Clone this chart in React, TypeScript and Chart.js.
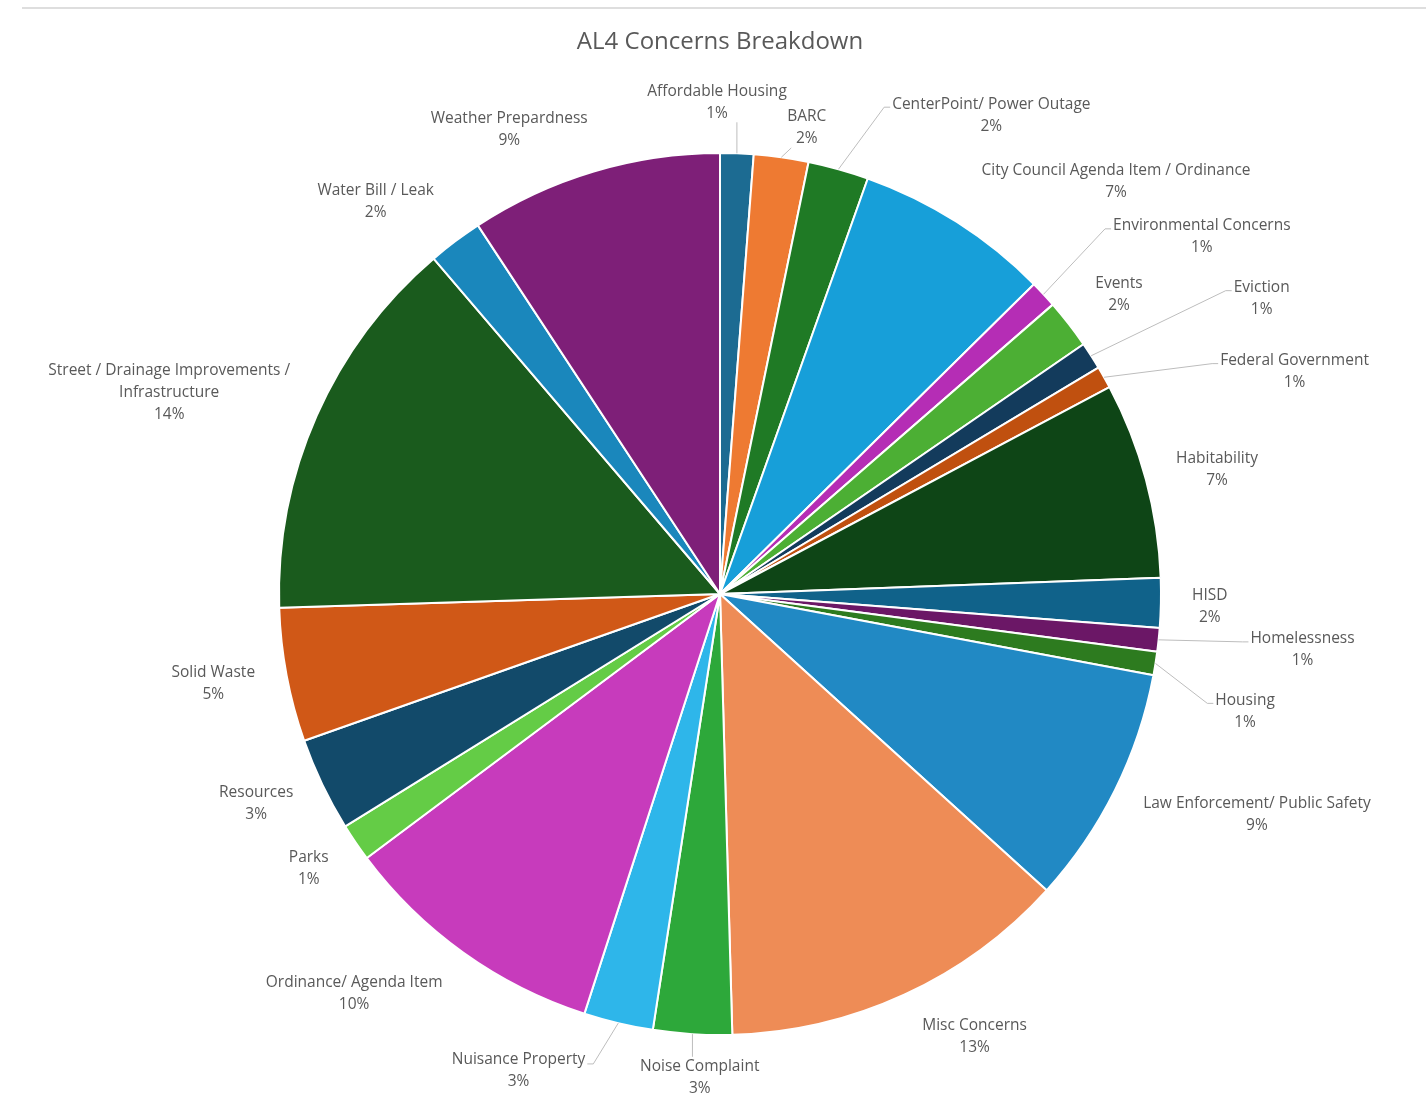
import React, { useEffect, useRef } from "react";
import { Chart, registerables } from "chart.js";

Chart.register(...registerables);

const TITLE = "AL4 Concerns Breakdown";

const categories = [
  "Affordable Housing",
  "BARC",
  "CenterPoint/ Power Outage",
  "City Council Agenda Item / Ordinance",
  "Environmental Concerns",
  "Events",
  "Eviction",
  "Federal Government",
  "Habitability",
  "HISD",
  "Homelessness",
  "Housing",
  "Law Enforcement/ Public Safety",
  "Misc Concerns",
  "Noise Complaint",
  "Nuisance Property",
  "Ordinance/ Agenda Item",
  "Parks",
  "Resources",
  "Solid Waste",
  "Street / Drainage Improvements / Infrastructure",
  "Water Bill / Leak",
  "Weather Prepardness",
];

// share of concerns (%)
const values = [
  1.22, 2.0, 2.22, 7.17, 1.0, 1.81, 1.0, 0.81, 7.19, 1.81, 0.86, 0.86, 8.78,
  12.83, 2.88, 2.54, 9.81, 1.38, 3.44, 4.9, 14.25, 2.0, 9.25,
];

const colors = [
  "#1c6b92",
  "#ee7a32",
  "#1f7a25",
  "#179fd9",
  "#b52db5",
  "#4caf34",
  "#133b5c",
  "#c0500f",
  "#0e4516",
  "#10628a",
  "#6b1766",
  "#2d7b1f",
  "#2189c4",
  "#ee8c56",
  "#2da83a",
  "#2eb6ea",
  "#c73bbc",
  "#64cc46",
  "#124a6a",
  "#d05817",
  "#1a5b1d",
  "#1a87bc",
  "#7e1f78",
];

// label layout: distance from centre (in radii), angle clockwise from 12 o'clock, leader anchor
const labelDist = [
  1.115, 1.075, 1.248, 1.296, 1.36, 1.131, 1.399, 1.397, 1.162, 1.111, 1.327,
  1.22, 1.316, 1.158, 1.098, 1.174, 1.228, 1.121, 1.154, 1.167, 1.33, 1.183,
  1.157,
];
const labelAngle = [
  -0.35, 10.55, 29.54, 43.86, 53.45, 53.13, 61.4, 68.84, 75.9, 91.5, 95.48,
  102.6, 112.3, 150.1, 182.4, 202.9, 222.5, 236.3, 245.7, 259.95, 290.1, 318.7,
  335.6,
];
const labelAnchor = [
  "B", "B", "L", "", "L", "", "L", "L", "", "", "L", "L", "", "", "T", "R", "",
  "", "", "", "", "", "",
];

const FONT = '"Open Sans", "Noto Sans", sans-serif';
const TEXT_COLOR = "#595959";
const LABEL_SIZE = 15.5;
const LINE_H = 22;

function wrapText(ctx: CanvasRenderingContext2D, text: string, maxW: number) {
  const words = text.split(" ");
  const lines: string[] = [];
  let cur = "";
  for (const w of words) {
    const t = cur ? cur + " " + w : w;
    if (ctx.measureText(t).width > maxW && cur) {
      lines.push(cur);
      cur = w;
    } else cur = t;
  }
  if (cur) lines.push(cur);
  return lines;
}

const outsideLabels = {
  id: "outsideLabels",
  afterDatasetsDraw(chart: any) {
    const ctx: CanvasRenderingContext2D = chart.ctx;
    const meta = chart.getDatasetMeta(0);
    const data = chart.data.datasets[0].data as number[];
    const total = data.reduce((a, b) => a + b, 0);
    ctx.save();
    ctx.font = `${LABEL_SIZE}px ${FONT}`;
    ctx.textAlign = "center";
    ctx.textBaseline = "middle";
    meta.data.forEach((arc: any, i: number) => {
      const p = arc.getProps(
        ["x", "y", "startAngle", "endAngle", "outerRadius"],
        true
      );
      const mid = (p.startAngle + p.endAngle) / 2;
      const ax = p.x + Math.cos(mid) * p.outerRadius;
      const ay = p.y + Math.sin(mid) * p.outerRadius;
      const ang = ((labelAngle[i] - 90) * Math.PI) / 180;
      const cx = p.x + Math.cos(ang) * labelDist[i] * p.outerRadius;
      const cy = p.y + Math.sin(ang) * labelDist[i] * p.outerRadius;
      const lines = wrapText(ctx, categories[i], 300);
      lines.push(Math.round((data[i] / total) * 100) + "%");
      const widths = lines.map((l) => ctx.measureText(l).width);
      const w = Math.max(...widths);
      const firstY = cy - ((lines.length - 1) / 2) * LINE_H;
      const lastY = firstY + (lines.length - 1) * LINE_H;
      const left = cx - w / 2;
      const right = cx + w / 2;
      const a = labelAnchor[i];
      if (a) {
        ctx.strokeStyle = "#bdbdbd";
        ctx.lineWidth = 1;
        ctx.beginPath();
        ctx.moveTo(ax, ay);
        if (a === "L") {
          const lw = widths[0];
          const l0 = cx - lw / 2;
          ctx.lineTo(l0 - 8, firstY + 3);
          ctx.lineTo(l0 - 2, firstY + 3);
        } else if (a === "R") {
          const lw = widths[0];
          const r0 = cx + lw / 2;
          ctx.lineTo(r0 + 8, firstY + 4);
          ctx.lineTo(r0 + 2, firstY + 4);
        } else if (a === "B") {
          const bx = Math.min(Math.max(ax, left + 4), right - 4);
          ctx.lineTo(bx, lastY + 9);
        } else if (a === "T") {
          const tx = Math.min(Math.max(ax, left + 4), right - 4);
          ctx.lineTo(tx, firstY - 10);
        }
        ctx.stroke();
      }
      ctx.fillStyle = TEXT_COLOR;
      lines.forEach((l, k) => ctx.fillText(l, cx, firstY + k * LINE_H));
    });
    ctx.restore();
  },
};

export default function App() {
  const ref = useRef<HTMLCanvasElement | null>(null);
  useEffect(() => {
    if (!ref.current) return;
    const chart = new Chart(ref.current, {
      type: "pie",
      data: {
        labels: categories,
        datasets: [
          {
            data: values,
            backgroundColor: colors,
            borderColor: "#ffffff",
            borderWidth: 2,
          },
        ],
      },
      options: {
        responsive: false,
        animation: false,
        layout: { padding: { top: 0, left: 278, right: 264, bottom: 82 } },
        plugins: {
          legend: { display: false },
          tooltip: { enabled: false },
          title: {
            display: true,
            text: TITLE,
            color: TEXT_COLOR,
            font: { family: FONT, size: 24, weight: "normal", lineHeight: 1.2 },
            padding: { top: 28, bottom: 95.2 },
          },
        },
      },
      plugins: [outsideLabels],
    } as any);
    return () => chart.destroy();
  }, []);
  return (
    <div
      style={{
        position: "fixed",
        left: 0,
        top: 0,
        width: 1426,
        height: 1118,
        background: "#ffffff",
        overflow: "hidden",
      }}
    >
      <div
        style={{
          position: "absolute",
          left: 22,
          top: 7,
          width: 1404,
          height: 2,
          background: "#dedede",
        }}
      />
      <canvas
        ref={ref}
        width={1426}
        height={1118}
        style={{ position: "absolute", left: 0, top: 0 }}
      />
    </div>
  );
}
